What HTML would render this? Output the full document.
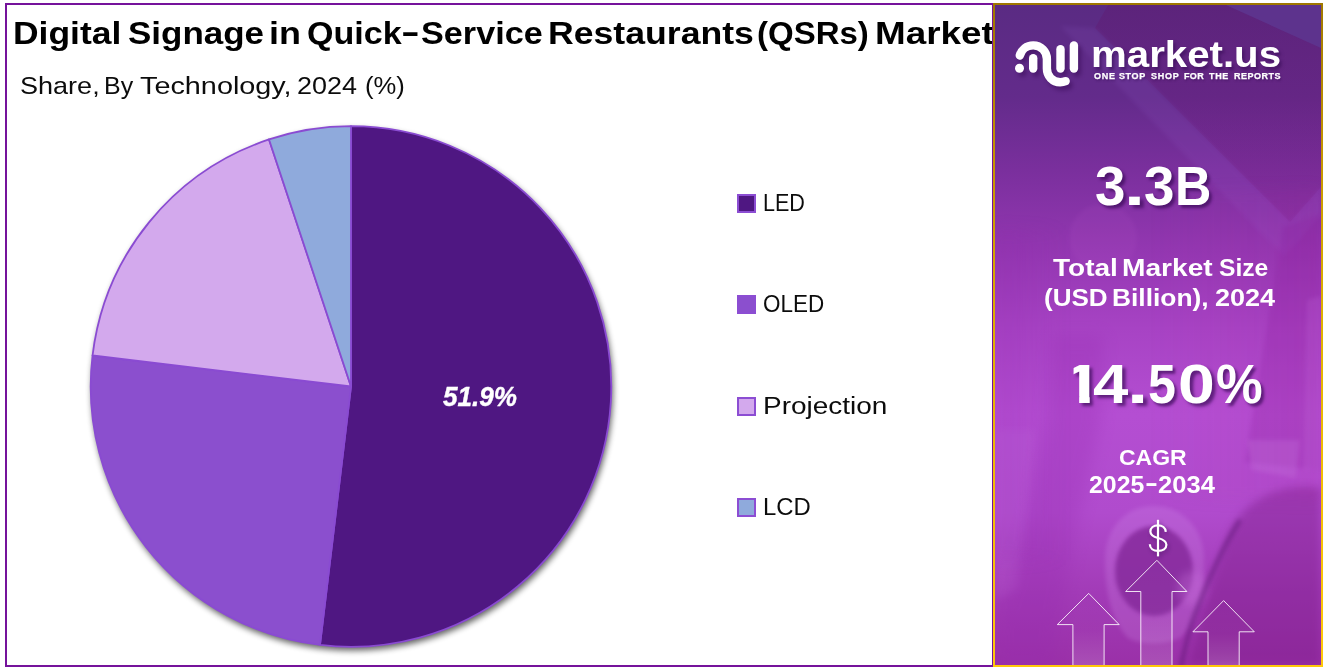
<!DOCTYPE html>
<html lang="en">
<head>
<meta charset="utf-8">
<title>Digital Signage in Quick-Service Restaurants (QSRs) Market</title>
<style>
  html, body { margin: 0; padding: 0; }
  body {
    width: 1328px; height: 667px; overflow: hidden; position: relative;
    background: #ffffff;
    font-family: "Liberation Sans", sans-serif;
  }
  .abs { position: absolute; }
  /* left chart frame */
  #frame {
    position: absolute; left: 5px; top: 3px; width: 985px; height: 660px;
    border: 2px solid #75139b; background: #fff; box-sizing: content-box;
  }
  #leftclip { position: absolute; left: 0; top: 0; width: 992px; height: 667px; overflow: hidden; }
  .t { position: absolute; white-space: nowrap; transform-origin: 0 0; line-height: 1; margin: 0; }
  .title { font-weight: bold; color: #000; }
  .sub { color: #0c0c0c; }
  .lg { color: #0c0c0c; }
  .sw { position: absolute; left: 737px; width: 15px; height: 15px; border: 2px solid #8c4dd3; }
  /* right panel */
  #panel {
    position: absolute; left: 993px; top: 3px; width: 330px; height: 664px;
    background: linear-gradient(180deg, #9f7700 0%, #c39300 22%, #dcae00 46%, #f2bc04 72%, #ffc80a 100%);
  }
  #panelbg {
    position: absolute; left: 2px; top: 2px; width: 326px; height: 660px; overflow: hidden;
    background: linear-gradient(180deg, #5a2b83 0%, #632b8b 14%, #7a2f9d 25%, #9337b1 37%, #a743c4 49%, #b44ed2 62%, #b04bcd 77%, #a23bb7 89%, #9a30a8 100%);
  }
  .w { color: #fff; font-weight: bold; }
  .it { font-style: italic; -webkit-text-stroke: 0.4px #fff; }
  .sh { text-shadow: 3px 3px 3px rgba(60,12,90,0.70); }
  .sh2 { text-shadow: 2px 3px 3px rgba(50,10,80,0.55); }
  .tg { text-shadow: 1px 2px 2px rgba(50,10,80,0.45); -webkit-text-stroke: 0.25px #fff; }
</style>
</head>
<body>

<div id="frame"></div>

<div id="leftclip">

<!-- Pie chart -->
<svg class="abs" style="left:0; top:0;" width="992" height="667" viewBox="0 0 992 667">
  <defs>
    <filter color-interpolation-filters="sRGB" id="pshadow" x="-10%" y="-10%" width="120%" height="120%">
      <feGaussianBlur stdDeviation="3.2"/>
    </filter>
  </defs>
  <circle cx="352.4" cy="390" r="260.6" fill="#000" opacity="0.62" filter="url(#pshadow)"/>
  <g stroke="#8a4bd2" stroke-width="1.8" stroke-linejoin="round">
    <path fill="#4f1782" d="M351,386.5 L351.00,126.20 A260.3,260.3 0 1 1 320.00,644.95 Z"/>
    <path fill="#8b4fce" d="M351,386.5 L320.00,644.95 A260.3,260.3 0 0 1 92.55,355.50 Z"/>
    <path fill="#d3a9ed" d="M351,386.5 L92.55,355.50 A260.3,260.3 0 0 1 269.01,139.45 Z"/>
    <path fill="#8faadc" d="M351,386.5 L269.01,139.45 A260.3,260.3 0 0 1 351.00,126.20 Z"/>
  </g>
</svg>

<!-- Legend swatches -->
<div class="sw" style="top:194px; background:#4f1782;"></div>
<div class="sw" style="top:295px; background:#8b4fce;"></div>
<div class="sw" style="top:397px; background:#d3a9ed;"></div>
<div class="sw" style="top:498px; background:#8faadc;"></div>

<div class="t title" id="tw1" style="left:13.42px;top:18.27px;font-size:31.7px;transform:scaleX(1.1188);">Digital</div>
<div class="t title" id="tw2" style="left:128.4px;top:18.27px;font-size:31.7px;transform:scaleX(1.1033);">Signage</div>
<div class="t title" id="tw3" style="left:269.31px;top:18.27px;font-size:31.7px;transform:scaleX(1.1339);">in</div>
<div class="t title" id="tw4" style="left:306.62px;top:18.27px;font-size:31.7px;transform:scaleX(1.0739);">Quick</div>
<div class="t title" id="tw4b" style="left:401.45px;top:16.27px;font-size:31.7px;transform:scaleX(1.7746);">-</div>
<div class="t title" id="tw4c" style="left:421.27px;top:18.27px;font-size:31.7px;transform:scaleX(1.079);">Service</div>
<div class="t title" id="tw5" style="left:547.5px;top:18.27px;font-size:31.7px;transform:scaleX(1.1243);">Restaurants</div>
<div class="t title" id="tw6" style="left:757.43px;top:18.27px;font-size:31.7px;transform:scaleX(1.0409);">(QSRs)</div>
<div class="t title" id="tw7" style="left:875.32px;top:18.27px;font-size:31.7px;transform:scaleX(1.1619);">Market</div>
<div class="t sub" id="sb1" style="left:19.54px;top:74.1px;font-size:24.4px;transform:scaleX(1.1087);">Share,</div>
<div class="t sub" id="sb2" style="left:103.8px;top:74.1px;font-size:24.4px;transform:scaleX(1.0221);">By</div>
<div class="t sub" id="sb3" style="left:140.32px;top:74.1px;font-size:24.4px;transform:scaleX(1.1812);">Technology,</div>
<div class="t sub" id="sb4" style="left:296.66px;top:74.1px;font-size:24.4px;transform:scaleX(1.1057);">2024</div>
<div class="t sub" id="sb5" style="left:365.25px;top:74.1px;font-size:24.4px;transform:scaleX(1.0496);">(%)</div>
<div class="t lg" id="lg1" style="left:763.07px;top:190.95px;font-size:24.4px;transform:scaleX(0.884);">LED</div>
<div class="t lg" id="lg2" style="left:762.6px;top:292.35px;font-size:24.4px;transform:scaleX(0.921);">OLED</div>
<div class="t lg" id="lg3" style="left:762.57px;top:394.35px;font-size:24.4px;transform:scaleX(1.1463);">Projection</div>
<div class="t lg" id="lg4" style="left:762.88px;top:495.35px;font-size:24.4px;transform:scaleX(0.9788);">LCD</div>
<div class="t w it" id="lbl" style="left:443.01px;top:382.13px;font-size:28.2px;transform:scaleX(0.9246);">51.9%</div>
</div>

<!-- Right panel -->
<div id="panel">
  <div id="panelbg">
    <svg class="abs" style="left:0; top:0;" width="326" height="660" viewBox="995 5 326 660">
      <defs>
        <filter color-interpolation-filters="sRGB" id="fb2" x="-30%" y="-30%" width="160%" height="160%"><feGaussianBlur stdDeviation="2"/></filter>
        <filter color-interpolation-filters="sRGB" id="fb4" x="-30%" y="-30%" width="160%" height="160%"><feGaussianBlur stdDeviation="4"/></filter>
        <filter color-interpolation-filters="sRGB" id="fb8" x="-40%" y="-40%" width="180%" height="180%"><feGaussianBlur stdDeviation="8"/></filter>
        <linearGradient id="tintR" x1="0" y1="0" x2="1" y2="0">
          <stop offset="0" stop-color="#b4289a" stop-opacity="0"/>
          <stop offset="1" stop-color="#b4289a" stop-opacity="0.10"/>
        </linearGradient>
        <linearGradient id="tintL" x1="0" y1="0" x2="1" y2="0">
          <stop offset="0" stop-color="#8a20a8" stop-opacity="0.16"/>
          <stop offset="1" stop-color="#8a20a8" stop-opacity="0"/>
        </linearGradient>
        <linearGradient id="fadeDown" x1="0" y1="0" x2="0" y2="1">
          <stop offset="0" stop-color="#60146a" stop-opacity="0.32"/>
          <stop offset="1" stop-color="#7a1c80" stop-opacity="0.16"/>
        </linearGradient>
      </defs>
      <!-- top: tablet screen region (darker, more magenta) -->
      <path d="M1095,28 L1108,5 L1321,5 L1321,187 L1290,222 Z" fill="url(#fadeDown)"/>
      <!-- tablet bezel (lighter diagonal band) -->
      <path d="M1060,26 L1095,28 L1290,222 L1321,187 L1321,216 L1284,256 L1254,226 Z" fill="#a070e0" opacity="0.10" filter="url(#fb2)"/>
      <!-- top-right lighter triangle -->
      <path d="M1226,5 L1321,5 L1321,48 Z" fill="#5d358f" opacity="0.9"/>
      <!-- right light strip mid -->
      <path d="M1283,227 L1321,214 L1321,470 L1245,462 Z" fill="#86189a" opacity="0.20" filter="url(#fb2)"/>
      <path d="M1307,300 L1321,296 L1321,470 L1303,470 Z" fill="#d080f0" opacity="0.16" filter="url(#fb2)"/>
      <!-- faint pie on paper -->
      <circle cx="1103" cy="238" r="34" fill="#c060d0" opacity="0.10" filter="url(#fb2)"/>
      <!-- left paper lower (lighter strip) -->
      <path d="M995,430 L1036,430 L1018,590 L995,600 Z" fill="#c878e4" opacity="0.16" filter="url(#fb4)"/>
      <!-- forearm running down-left (slightly darker) -->
      <path d="M1052,335 L1104,335 L1100,425 L1078,520 L1052,667 L995,667 L995,625 L1028,520 L1046,425 Z" fill="#9428ae" opacity="0.24" filter="url(#fb8)"/>
      <!-- upper right paper/laptop -->
      <path d="M1247,440 L1300,440 L1296,478 L1252,470 Z" fill="#c77ae2" opacity="0.30" filter="url(#fb2)"/>
      <!-- dark sleeve -->
      <path d="M1321,488 C1285,482 1245,496 1228,535 C1212,580 1196,630 1188,665 L1321,665 Z" fill="#7c1c88" opacity="0.42" filter="url(#fb4)"/>
      <!-- cup outer silhouette (rim + wall) -->
      <path d="M1105,560 C1105,528 1126,506 1153,506 C1182,506 1204,528 1204,560 C1204,596 1196,624 1180,638 C1166,645 1140,645 1128,638 C1112,622 1105,592 1105,560 Z" fill="#d596ee" opacity="0.22" filter="url(#fb2)"/>
      <!-- coffee -->
      <ellipse cx="1154" cy="571" rx="39" ry="45" fill="#84289a" opacity="0.82" filter="url(#fb2)"/>
      <!-- hand near cup (lighter) -->
      <ellipse cx="1192" cy="588" rx="15" ry="17" fill="#c870dc" opacity="0.35" filter="url(#fb4)"/>
      <!-- magenta tint on right side -->
      <rect x="1150" y="190" width="171" height="310" fill="url(#tintR)" filter="url(#fb8)"/>
      <!-- darker left edge vignette -->
      <rect x="995" y="230" width="70" height="330" fill="url(#tintL)" filter="url(#fb8)"/>
      <!-- cord -->
      <path d="M1240,520 C1222,548 1204,590 1192,622 C1187,640 1183,655 1181,667" stroke="#54126c" stroke-width="5" fill="none" opacity="0.42" filter="url(#fb2)"/>
    </svg>
  </div>
</div>

<!-- Panel foreground graphics: logo, dollar, arrows -->
<svg class="abs" style="left:993px; top:3px;" width="330" height="662" viewBox="993 3 330 662">
  <defs>
    <filter color-interpolation-filters="sRGB" id="lshadow" x="-20%" y="-20%" width="150%" height="150%">
      <feGaussianBlur stdDeviation="2.2"/>
    </filter>
    <linearGradient id="arr" x1="0" y1="0" x2="0" y2="1">
      <stop offset="0" stop-color="#fff" stop-opacity="0"/>
      <stop offset="0.5" stop-color="#fff" stop-opacity="0.02"/>
      <stop offset="1" stop-color="#fff" stop-opacity="0.16"/>
    </linearGradient>
  </defs>
  <!-- logo shadow -->
  <g transform="translate(3,4)" opacity="0.55" filter="url(#lshadow)" stroke="#3a0c58" fill="none" stroke-width="8.4" stroke-linecap="round">
    <path d="M1019.8,55.5 C1021.5,49.5 1026.5,45.4 1033.2,45.4 C1041,45.4 1046.9,51.4 1046.9,59 L1046.9,68.5 C1046.9,76.3 1052.6,82.2 1060.2,82.2 C1062.2,82.2 1064,81.8 1065.6,81.1"/>
    <path d="M1033.2,58.2 L1033.2,68.6"/>
    <path d="M1060.5,49.3 L1060.5,68.6"/>
    <path d="M1073.9,45.4 L1073.9,68.6"/>
    <circle cx="1019.5" cy="68.2" r="4.5" fill="#3a0c58" stroke="none"/>
  </g>
  <!-- logo -->
  <g stroke="#fff" fill="none" stroke-width="8.4" stroke-linecap="round">
    <path d="M1019.8,55.5 C1021.5,49.5 1026.5,45.4 1033.2,45.4 C1041,45.4 1046.9,51.4 1046.9,59 L1046.9,68.5 C1046.9,76.3 1052.6,82.2 1060.2,82.2 C1062.2,82.2 1064,81.8 1065.6,81.1"/>
    <path d="M1033.2,58.2 L1033.2,68.6"/>
    <path d="M1060.5,49.3 L1060.5,68.6"/>
    <path d="M1073.9,45.4 L1073.9,68.6"/>
    <circle cx="1019.5" cy="68.2" r="4.5" fill="#fff" stroke="none"/>
  </g>

  <!-- arrows -->
  <g fill="url(#arr)" stroke="#fff" stroke-width="1" stroke-linejoin="miter" stroke-opacity="0.85">
    <path d="M1088.7,593.4 L1119.2,624.6 L1104.1,624.6 L1104.1,667 L1072.9,667 L1072.9,624.6 L1057.3,624.6 Z"/>
    <path d="M1156.9,560.3 L1186.9,591.5 L1172,591.5 L1172,667 L1140.8,667 L1140.8,591.5 L1125.7,591.5 Z"/>
    <path d="M1223.6,600.6 L1254.3,631.8 L1239.2,631.8 L1239.2,667 L1208,667 L1208,631.8 L1192.9,631.8 Z"/>
  </g>

  <!-- dollar sign -->
  <g transform="translate(1.5,2)" opacity="0.45" filter="url(#lshadow)" stroke="#3a0c58" fill="none" stroke-width="2.2" stroke-linecap="butt">
    <path d="M1165.8,531.8 C1165.5,527.8 1162.3,525.3 1158,525.3 C1153.5,525.3 1150.4,527.9 1150.4,531.5 C1150.4,535.2 1153.2,536.7 1158,538 C1163,539.3 1166.4,540.8 1166.4,544.8 C1166.4,548.6 1162.8,550.9 1158,550.9 C1153.3,550.9 1150,548.4 1149.8,544.2"/>
    <path d="M1158,519.8 L1158,556.4"/>
  </g>
  <g stroke="#fff" fill="none" stroke-width="2.2" stroke-linecap="butt">
    <path d="M1165.8,531.8 C1165.5,527.8 1162.3,525.3 1158,525.3 C1153.5,525.3 1150.4,527.9 1150.4,531.5 C1150.4,535.2 1153.2,536.7 1158,538 C1163,539.3 1166.4,540.8 1166.4,544.8 C1166.4,548.6 1162.8,550.9 1158,550.9 C1153.3,550.9 1150,548.4 1149.8,544.2"/>
    <path d="M1158,519.8 L1158,556.4"/>
  </g>
</svg>

<!-- the digit 1 of 14.50%: clipped to a footless, thick-stemmed shape -->
<div class="abs" id="c1w" style="left:0; top:0; width:1328px; height:667px; filter:drop-shadow(3px 3px 1.5px rgba(60,12,90,0.70)); pointer-events:none;">
<div class="t w" id="c1" style="left:1061.8px; top:357.32px; font-size:55.5px; transform:scaleX(1.33); clip-path:polygon(8.7px 0, 20.9px 0, 20.9px 55.5px, 12.9px 55.5px, 12.9px 39px, 8.7px 39px);">1</div>
</div>
<div class="t w sh2" id="mk" style="left:1091.47px;top:36.93px;font-size:36.0px;transform:scaleX(1.1172);">market.us</div>
<div class="t w tg" id="tg1" style="left:1093.7px;top:73.06px;font-size:8.2px;transform:scaleX(1.1);letter-spacing:0.625px;">ONE</div>
<div class="t w tg" id="tg2" style="left:1119.47px;top:73.06px;font-size:8.2px;transform:scaleX(1.1);letter-spacing:0.551px;">STOP</div>
<div class="t w tg" id="tg3" style="left:1150.77px;top:73.06px;font-size:8.2px;transform:scaleX(1.1);letter-spacing:0.642px;">SHOP</div>
<div class="t w tg" id="tg4" style="left:1183.67px;top:73.06px;font-size:8.2px;transform:scaleX(1.1);letter-spacing:0.315px;">FOR</div>
<div class="t w tg" id="tg5" style="left:1208.89px;top:73.06px;font-size:8.2px;transform:scaleX(1.1);letter-spacing:0.595px;">THE</div>
<div class="t w tg" id="tg6" style="left:1233.77px;top:73.06px;font-size:8.2px;transform:scaleX(1.1);letter-spacing:0.439px;">REPORTS</div>
<div class="t w sh" id="b1" style="left:1094.78px;top:157.6px;font-size:56.0px;transform:scaleX(0.9767);">3</div>
<div class="t w sh" id="b2" style="left:1124.29px;top:157.6px;font-size:56.0px;transform:scaleX(1.3448);">.</div>
<div class="t w sh" id="b3" style="left:1143.52px;top:157.6px;font-size:56.0px;transform:scaleX(0.9785);">3</div>
<div class="t w sh" id="b4" style="left:1175.38px;top:157.6px;font-size:56.0px;transform:scaleX(0.8992);">B</div>
<div class="t w" id="m1" style="left:1052.91px;top:257.29px;font-size:23.4px;transform:scaleX(1.198);">Total</div>
<div class="t w" id="m2" style="left:1121.58px;top:257.29px;font-size:23.4px;transform:scaleX(1.2031);">Market</div>
<div class="t w" id="m3" style="left:1219.49px;top:257.29px;font-size:23.4px;transform:scaleX(1.0535);">Size</div>
<div class="t w" id="m4" style="left:1044.49px;top:287.39px;font-size:23.4px;transform:scaleX(1.113);">(USD</div>
<div class="t w" id="m5" style="left:1112.3px;top:287.39px;font-size:23.4px;transform:scaleX(1.1266);">Billion),</div>
<div class="t w" id="m6" style="left:1214.81px;top:287.39px;font-size:23.4px;transform:scaleX(1.1549);">2024</div>
<div class="t w sh" id="c2" style="left:1093.04px;top:357.32px;font-size:55.5px;transform:scaleX(1.1444);">4</div>
<div class="t w sh" id="c3" style="left:1126.79px;top:357.32px;font-size:55.5px;transform:scaleX(1.3832);">.</div>
<div class="t w sh" id="c4" style="left:1147.8px;top:357.32px;font-size:55.5px;transform:scaleX(0.9047);">5</div>
<div class="t w sh" id="c5" style="left:1178.34px;top:357.32px;font-size:55.5px;transform:scaleX(1.1928);">0</div>
<div class="t w sh" id="c6" style="left:1216.07px;top:357.32px;font-size:55.5px;transform:scaleX(0.9452);">%</div>
<div class="t w" id="g1" style="left:1118.86px;top:447.18px;font-size:22.0px;transform:scaleX(1.0445);">CAGR</div>
<div class="t w" id="g2" style="left:1088.92px;top:474.33px;font-size:23.0px;transform:scaleX(1.0814);">2025</div>
<div class="t w" id="g2b" style="left:1144.82px;top:472.33px;font-size:23.0px;transform:scaleX(1.6854);">-</div>
<div class="t w" id="g3" style="left:1158.15px;top:474.33px;font-size:23.0px;transform:scaleX(1.1117);">2034</div>

</body>
</html>
